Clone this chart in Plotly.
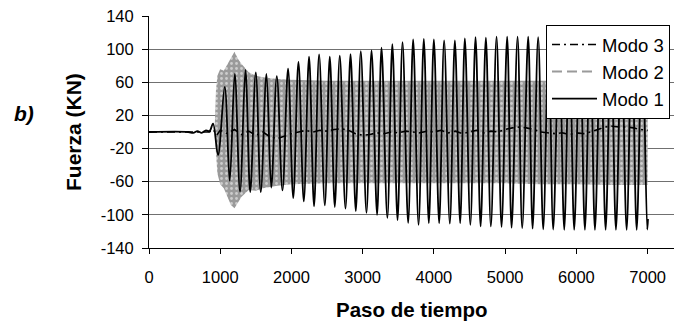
import plotly.graph_objects as go

# ---- Modo 1 (solid black): extrema ----
m1_t = [0, 550, 620, 680, 740, 800, 850, 899, 969, 1063, 1133, 1204, 1278, 1354, 1421,
        1499, 1569, 1649, 1716, 1794, 1874, 1952, 2025, 2098, 2173, 2247, 2317, 2388,
        2468, 2538, 2608, 2678, 2758, 2829, 2903, 2973, 3053, 3124, 3202, 3264, 3346,
        3416, 3489, 3559, 3638, 3708, 3784, 3858, 3928, 3999, 4073, 4143, 4223, 4294,
        4368, 4434, 4511, 4584, 4655, 4729, 4799, 4879, 4949, 5028, 5090, 5174, 5239,
        5323, 5385, 5463, 5534, 5610, 5674, 5758, 5829, 5902, 5969, 6049, 6119, 6194,
        6260, 6340, 6410, 6485, 6555, 6632, 6705, 6779, 6846, 6924, 6994, 7005]
m1_v = [0, 0, -1, 1, -1, 2, 1, 10, -28, 54.5, -59, 70, -72, 75, -72.5,
        72, -72.5, 70, -67, 67.5, -70.5, 76.5, -79.7, 84.5, -83.7, 91, -89.7, 93.7,
        -88.5, 91, -90.5, 92, -92.5, 94, -95.5, 97.5, -97.5, 98.5, -100, 101.7, -103.7,
        106, -106.5, 108.5, -109.7, 111.7, -112, 112.5, -110, 111.7, -110, 110.5, -110.5, 110.5,
        -110, 113, -112, 114.5, -114, 114, -114, 115, -114.5, 115, -115.5, 115, -116,
        115, -116.5, 114.5, -117.5, 115, -117.7, 115, -118, 115, -118, 115, -118, 115,
        -118, 115, -118, 115, -118, 115, -118, 115, -118, 115, -117.7, -105]

# ---- Modo 2 (grey dashed, dense oscillation): envelope ----
m2_t = [920, 940, 960, 1000, 1050, 1100, 1150, 1200, 1250, 1300, 1400, 1500, 1600,
        1800, 2000, 2500, 3000, 3500, 4000, 4500, 5000, 5500, 6000, 6500, 7000]
m2_hi = [0, 50, 68, 76, 74, 82, 90, 97, 88, 82, 72, 68, 66,
         64, 63, 62, 62, 62, 62, 62, 62, 62, 62, 62, 62]
m2_lo = [0, -25, -50, -63, -68, -78, -88, -92, -85, -78, -70, -71, -68,
         -65, -63, -62, -62, -62, -62, -62, -62, -63, -63, -64, -64]

# ---- Modo 3 (black dash-dot) ----
m3_t = [0, 850, 900, 950, 1000, 1100, 1200, 1300, 1400, 1500, 1600, 1700, 1800, 1900,
        2000, 2100, 2200, 2300, 2400, 2500, 2600, 2700, 2800, 2900, 3000, 3100, 3200,
        3300, 3400, 3500, 3600, 3700, 3800, 3900, 4000, 4100, 4200, 4300, 4400, 4500,
        4600, 4700, 4800, 4900, 5000, 5100, 5200, 5300, 5400, 5500, 5600, 5700, 5800,
        5900, 6000, 6100, 6200, 6300, 6400, 6500, 6600, 6700, 6800, 6900, 7000]
m3_v = [0, 0, 3, -4, 2, -2, 3, -3, 1, -4, 0, -6, -8, -5,
        -2, 0, 2, 0, 2, 1, 3, 4, 2, -2, -4, -3, -1,
        -2, 0, -1, 1, 0, -1, 1, 0, 2, -1, 1, -2, 0,
        2, -1, 1, 0, 3, 5, 6, 5, 3, 0, -1, -2, -1,
        -3, -1, -2, 0, 3, 6, 7, 6, 6, 5, 3, 2]

x_ticks = [0, 1000, 2000, 3000, 4000, 5000, 6000, 7000]
y_ticks = [-140, -100, -60, -20, 20, 60, 100, 140]

FONT = "Liberation Sans, Arial, sans-serif"
GREY = "#9a9a9a"

W, H = 674, 322
L, R, T, B = 149, 0, 16, 74
PW, PH = W - L - R, H - T - B


def px_x(x):
    return (x - L) / PW


def px_y(y):
    return (H - B - y) / PH


fig = go.Figure()

# Modo 2 band (dense oscillation rendered as its envelope)
fig.add_trace(go.Scatter(
    x=m2_t + m2_t[::-1], y=m2_hi + m2_lo[::-1],
    fill="toself", fillcolor=GREY, mode="lines", line=dict(width=0),
    fillpattern=dict(shape=".", fgcolor="white", bgcolor=GREY, size=5, solidity=0.25),
    hoverinfo="skip", showlegend=False))

fig.add_trace(go.Scatter(
    x=m3_t, y=m3_v, mode="lines", name="Modo 3", legendrank=1,
    line=dict(color="black", width=1.6, dash="8px,4px,2px,4px")))

fig.add_trace(go.Scatter(
    x=[None], y=[None], mode="lines", name="Modo 2", legendrank=2,
    line=dict(color=GREY, width=2, dash="10px,5px")))

fig.add_trace(go.Scatter(
    x=m1_t, y=m1_v, mode="lines", name="Modo 1", legendrank=3,
    line=dict(color="black", width=1.8, shape="spline", smoothing=1)))

fig.update_layout(
    width=W, height=H,
    margin=dict(l=L, r=R, t=T, b=B, autoexpand=False),
    paper_bgcolor="white", plot_bgcolor="white",
    font=dict(family=FONT, size=16.5, color="black"),
    showlegend=True,
    legend=dict(x=px_x(546), y=px_y(25), xanchor="left", yanchor="top",
                bgcolor="white", bordercolor="black", borderwidth=1,
                font=dict(size=18.5), tracegroupgap=0, itemwidth=45),
    xaxis=dict(range=[0, 7370], tickvals=x_ticks, ticktext=[str(v) for v in x_ticks],
               showgrid=False, zeroline=False, showline=True, linecolor="black",
               linewidth=1, ticks="outside", ticklen=5, tickcolor="black",
               ticklabelstandoff=9),
    yaxis=dict(range=[-140, 140], tickvals=y_ticks, ticktext=[str(v) for v in y_ticks],
               showgrid=True, gridcolor="#707070", gridwidth=1, zeroline=False,
               showline=True, linecolor="black", linewidth=1, ticks="outside",
               ticklen=6, tickcolor="black", ticklabelstandoff=5),
    annotations=[
        dict(text="<b><i>b)</i></b>", x=px_x(23.5), y=px_y(113), xref="paper", yref="paper",
             xanchor="center", yanchor="middle", showarrow=False, font=dict(size=21)),
        dict(text="<b>Paso de tiempo</b>", x=0.5, y=px_y(309), xref="paper", yref="paper",
             xanchor="center", yanchor="middle", showarrow=False, font=dict(size=20.5)),
        dict(text="<b>Fuerza (KN)</b>", x=px_x(73), y=px_y(132), xref="paper", yref="paper",
             xanchor="center", yanchor="middle", showarrow=False, textangle=-90,
             font=dict(size=21)),
    ],
)

fig.write_html("out.html", config={"displayModeBar": False},
               post_script="document.body.style.margin='0';")
